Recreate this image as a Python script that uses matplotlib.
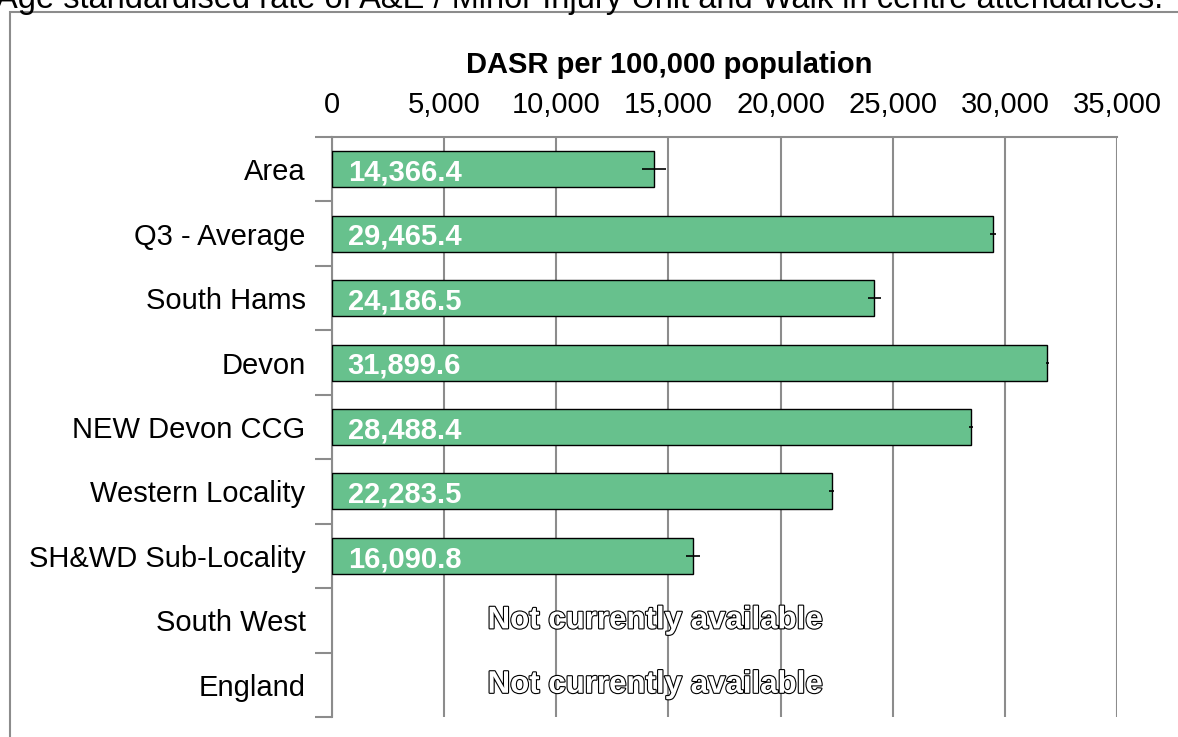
import matplotlib.pyplot as plt
import matplotlib.patheffects as pe
from matplotlib.patches import Rectangle

plt.rcParams['font.family'] = ['Liberation Sans', 'DejaVu Sans']

categories = ['Area', 'Q3 - Average', 'South Hams', 'Devon', 'NEW Devon CCG',
              'Western Locality', 'SH&WD Sub-Locality', 'South West', 'England']
values = [14366.4, 29465.4, 24186.5, 31899.6, 28488.4, 22283.5, 16090.8, None, None]
errors = [530, 150, 300, 80, 80, 120, 300, None, None]

fig = plt.figure(figsize=(11.78, 7.37), dpi=100)
ax = fig.add_axes([332 / 1178, 20 / 737, (1117 - 332) / 1178, (737 - 20 - 137) / 737])

# outer chart frame, cut off at right and bottom like the source
fig.patches.append(Rectangle((10 / 1178, -0.05), 1.1, 1.05 - 12 / 737,
                             transform=fig.transFigure, fill=False,
                             edgecolor='#8c8c8c', linewidth=1.5))
fig.text(-0.003, 1 - 8 / 737, 'Age standardised rate of A&E / Minor Injury Unit and Walk in centre attendances.',
         fontsize=23.5, ha='left', va='baseline')

ypos = list(range(len(categories)))
for y, v, e in zip(ypos, values, errors):
    if v is None:
        t = ax.text(14400, y, 'Not currently available', ha='center', va='center',
                    fontsize=22.5, fontweight='bold', color='white')
        t.set_path_effects([pe.Stroke(linewidth=1.6, foreground='black'), pe.Normal()])
        continue
    ax.barh(y, v, height=0.56, color='#67c18d', edgecolor='black', linewidth=1, zorder=3)
    ax.errorbar(v, y, xerr=e, fmt='none', ecolor='black', elinewidth=1.2, capsize=0, zorder=4)
    ax.text(700, y + 0.05, f'{v:,.1f}', ha='left', va='center', fontsize=21,
            fontweight='bold', color='white', zorder=5)

ax.set_xlim(0, 35000)
ax.set_ylim(len(categories) - 0.5, -0.5)
ax.set_yticks(ypos)
ax.set_yticklabels(categories, fontsize=21)
ax.set_yticks([i - 0.5 for i in range(len(categories) + 1)], minor=True)
ax.tick_params(axis='y', which='major', length=0, pad=19)
ax.tick_params(axis='y', which='minor', length=12, color='#8c8c8c', width=1.5)

ax.xaxis.tick_top()
ax.xaxis.set_label_position('top')
ax.set_xticks(range(0, 35001, 5000))
ax.set_xticklabels([f'{x:,}' for x in range(0, 35001, 5000)], fontsize=21)
ax.tick_params(axis='x', length=0, pad=13)
ax.set_xlabel('DASR per 100,000 population', fontsize=21, fontweight='bold', labelpad=13)
ax.xaxis.label.set_x((669 - 332) / (1117 - 332))

ax.grid(axis='x', color='#8c8c8c', linewidth=1.5, zorder=0)
ax.set_axisbelow(True)
for s in ['right', 'bottom']:
    ax.spines[s].set_visible(False)
ax.spines['left'].set_color('#8c8c8c')
ax.spines['left'].set_linewidth(1.5)
ax.spines['top'].set_color('#8c8c8c')
ax.spines['top'].set_linewidth(1.5)

fig.savefig('out.png', dpi=100)
